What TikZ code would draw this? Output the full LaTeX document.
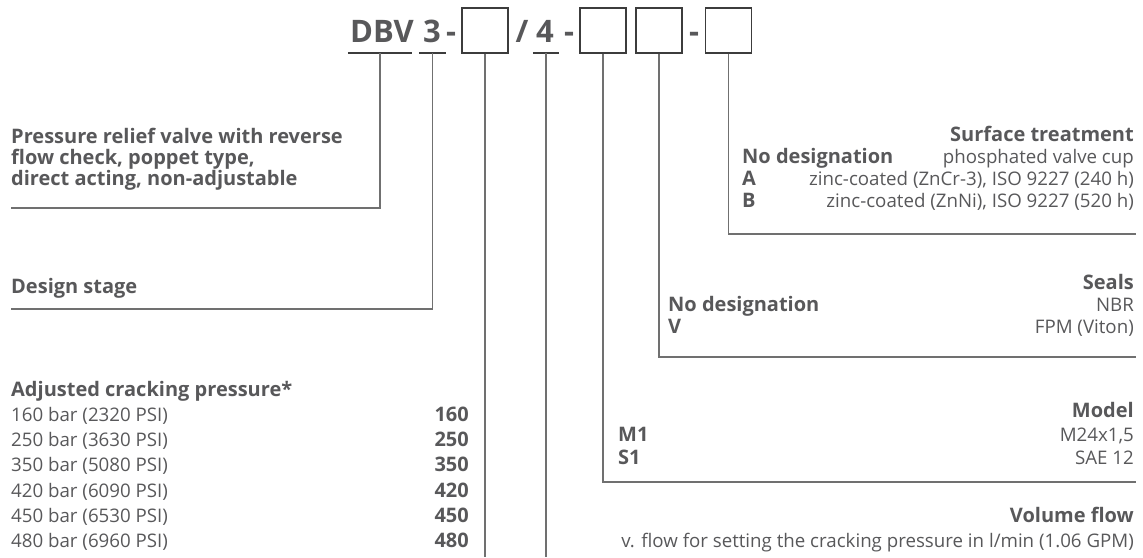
\documentclass[tikz,border=0pt]{standalone}
\usepackage{fontspec}
\setmainfont{Open Sans}
\definecolor{txt}{HTML}{58585A}
\definecolor{boxc}{HTML}{3C3C3C}
\definecolor{linec}{HTML}{707070}
\begin{document}
\begin{tikzpicture}[x=1pt,y=-1pt,
  lbl/.style={inner sep=0pt, text=txt, font=\fontsize{18.7}{22}\selectfont},
  hd/.style={inner sep=0pt, text=txt, font=\fontsize{20}{22}\selectfont\bfseries},
  big/.style={inner sep=0pt, text=txt, font=\fontsize{31}{31}\selectfont\bfseries, anchor=base},
  codebox/.style={draw=boxc, line width=1.4pt, minimum width=46pt, minimum height=45pt, inner sep=0pt},
  uline/.style={inner sep=0pt, minimum height=0pt},
  ulinedraw/.style={draw=boxc, line width=1.3pt},
  conn/.style={draw=linec, line width=1.3pt}]
\useasboundingbox (0,0) rectangle (1143,557);

% ---- code line ----
\node[big, anchor=base west] (tDBV) at (350,42) {DBV};
\node[big] (t3) at (432,42) {3};
\node[big] (d1) at (451,42) {-};
\node[big] (sl) at (522,42) {/};
\node[big] (t4) at (545,42) {4};
\node[big] (d2) at (569,42) {-};
\node[big] (d3) at (694,42) {-};

\node[codebox] (b1) at (485,30.5) {};
\node[codebox] (b2) at (603,30.5) {};
\node[codebox] (b3) at (659,30.5) {};
\node[codebox] (b4) at (728.5,30.5) {};

\node[uline, minimum width=64pt] (u1) at (380,53) {};
\node[uline, minimum width=27pt] (u2) at (432.5,53) {};
\node[uline, minimum width=26pt] (u3) at (546,53) {};
\draw[ulinedraw] (u1.west) -- (u1.east);
\draw[ulinedraw] (u2.west) -- (u2.east);
\draw[ulinedraw] (u3.west) -- (u3.east);

% ---- connector end points ----
\coordinate (e1) at (11,208);
\coordinate (e2) at (11,309);
\coordinate (e3) at (485,557);
\coordinate (e4) at (546,557);
\coordinate (e5) at (1136,482);
\coordinate (e6) at (1136,357);
\coordinate (e7) at (1136,234);

\draw[conn] (u1.center) |- (e1);
\draw[conn] (u2.center) |- (e2);
\draw[conn] (b1.south) -- (e3);
\draw[conn] (u3.center) -- (e4);
\draw[conn] (b2.south) |- (e5);
\draw[conn] (b3.south) |- (e6);
\draw[conn] (b4.south) |- (e7);

% ---- left texts ----
\node[hd, anchor=base west] (p1) at (11,143) {Pressure relief valve with reverse};
\node[hd, anchor=base west] (p2) at (11,164) {flow check, poppet type,};
\node[hd, anchor=base west] (p3) at (11,185) {direct acting, non-adjustable};

\node[hd, anchor=base west] (ds) at (11,293) {Design stage};

\node[hd, anchor=base west] (acp) at (11,396) {Adjusted cracking pressure*};
\node[lbl, anchor=base west] (r1) at (11,421) {160 bar (2320 PSI)};
\node[lbl, anchor=base west] (r2) at (11,446) {250 bar (3630 PSI)};
\node[lbl, anchor=base west] (r3) at (11,471.5) {350 bar (5080 PSI)};
\node[lbl, anchor=base west] (r4) at (11,497) {420 bar (6090 PSI)};
\node[lbl, anchor=base west] (r5) at (11,522) {450 bar (6530 PSI)};
\node[lbl, anchor=base west] (r6) at (11,547.5) {480 bar (6960 PSI)};
\node[hd, anchor=base east] (v1) at (469,421) {160};
\node[hd, anchor=base east] (v2) at (469,446) {250};
\node[hd, anchor=base east] (v3) at (469,471.5) {350};
\node[hd, anchor=base east] (v4) at (469,497) {420};
\node[hd, anchor=base east] (v5) at (469,522) {450};
\node[hd, anchor=base east] (v6) at (469,547.5) {480};

% ---- surface treatment ----
\node[hd, anchor=base east] (st) at (1134,141) {Surface treatment};
\node[hd, anchor=base west] (st1k) at (742,163) {No designation};
\node[lbl, anchor=base east] (st1v) at (1134,163) {phosphated valve cup};
\node[hd, anchor=base west] (st2k) at (742,185) {A};
\node[lbl, anchor=base east] (st2v) at (1134,185) {zinc-coated (ZnCr-3), ISO 9227 (240 h)};
\node[hd, anchor=base west] (st3k) at (742,207) {B};
\node[lbl, anchor=base east] (st3v) at (1134,207) {zinc-coated (ZnNi), ISO 9227 (520 h)};

% ---- seals ----
\node[hd, anchor=base east] (se) at (1134,289) {Seals};
\node[hd, anchor=base west] (se1k) at (668,311) {No designation};
\node[lbl, anchor=base east] (se1v) at (1134,311) {NBR};
\node[hd, anchor=base west] (se2k) at (668,333) {V};
\node[lbl, anchor=base east] (se2v) at (1134,333) {FPM (Viton)};

% ---- model ----
\node[hd, anchor=base east] (mo) at (1134,417) {Model};
\node[hd, anchor=base west] (mo1k) at (618,441) {M1};
\node[lbl, anchor=base east] (mo1v) at (1134,441) {M24x1,5};
\node[hd, anchor=base west] (mo2k) at (618,464) {S1};
\node[lbl, anchor=base east] (mo2v) at (1134,464) {SAE 12};

% ---- volume flow ----
\node[hd, anchor=base east] (vf) at (1134,522) {Volume flow};
\node[lbl, anchor=base east] (vf1) at (1134,547.5) {v. flow for setting the cracking pressure in l/min (1.06 GPM)};
\end{tikzpicture}
\end{document}
